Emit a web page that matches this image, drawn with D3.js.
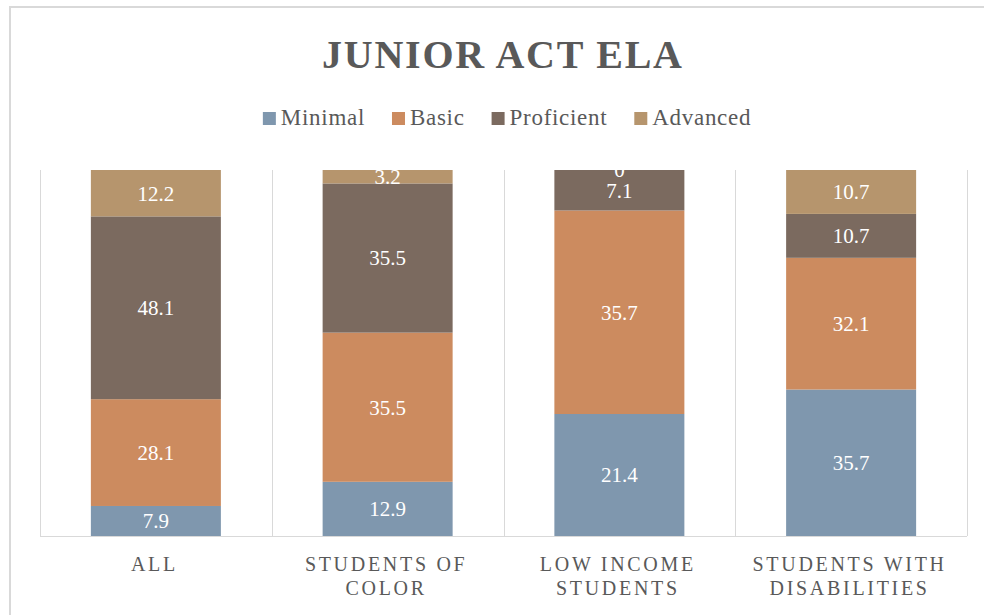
<!DOCTYPE html>
<html lang="en">

<head>
    <meta charset="UTF-8" />
    <style>
        body { margin: 0; background: #fff; }
        text { font-family: "Liberation Serif", "DejaVu Serif", serif; }
    </style>
</head>

<body>
    <svg width="984" height="615"></svg>
    <script src="https://d3js.org/d3.v7.min.js"></script>
    <script>
        // chart data
        var categories = ["ALL", "STUDENTS OF COLOR", "LOW INCOME STUDENTS", "STUDENTS WITH DISABILITIES"];
        var seriesNames = ["Minimal", "Basic", "Proficient", "Advanced"];
        var minimal = [7.9, 12.9, 21.4, 35.7];
        var basic = [28.1, 35.5, 35.7, 32.1];
        var proficient = [48.1, 35.5, 7.1, 10.7];
        var advanced = [12.2, 3.2, 0, 10.7];
        var colors = ["#7f97ae", "#cc8b5f", "#7b6a5f", "#b6956d"];

        var svg = d3.select("svg"),
            width = +svg.attr("width"),
            height = +svg.attr("height");

        // chart frame
        svg.append("rect")
            .attr("x", 10).attr("y", 7)
            .attr("width", width + 20).attr("height", height + 20)
            .attr("fill", "#fff")
            .attr("stroke", "#d9d9d9")
            .attr("stroke-width", 2);

        var plotLeft = 40, plotRight = 967, plotTop = 170, plotBottom = 536;

        var rows = categories.map(function (c, i) {
            return { cat: c, Minimal: minimal[i], Basic: basic[i], Proficient: proficient[i], Advanced: advanced[i] };
        });

        var stack = d3.stack().keys(seriesNames).offset(d3.stackOffsetExpand);
        var series = stack(rows);

        var x = d3.scaleBand().domain(categories).range([plotLeft, plotRight]);
        var barW = 130;
        var y = d3.scaleLinear().domain([0, 1]).range([plotBottom, plotTop]);

        // separators
        var bounds = categories.map(function (c) { return x(c); }).concat([plotRight]);
        svg.append("g").selectAll("line")
            .data(bounds)
            .enter().append("line")
            .attr("x1", function (d) { return Math.round(d) + 0.5; })
            .attr("x2", function (d) { return Math.round(d) + 0.5; })
            .attr("y1", plotTop).attr("y2", plotBottom)
            .attr("stroke", "#d9d9d9");

        // bars
        var g = svg.append("g");
        series.forEach(function (s, si) {
            g.selectAll(".s" + si)
                .data(s)
                .enter().append("rect")
                .attr("class", "s" + si)
                .attr("x", function (d) { return x(d.data.cat) + (x.bandwidth() - barW) / 2; })
                .attr("width", barW)
                .attr("y", function (d) { return y(d[1]); })
                .attr("height", function (d) { return y(d[0]) - y(d[1]); })
                .attr("fill", colors[si]);
        });

        // bottom axis line
        svg.append("line")
            .attr("x1", plotLeft).attr("x2", plotRight)
            .attr("y1", plotBottom + 0.5).attr("y2", plotBottom + 0.5)
            .attr("stroke", "#d9d9d9");

        // value labels
        series.forEach(function (s, si) {
            g.selectAll(".l" + si)
                .data(s)
                .enter().append("text")
                .attr("class", "l" + si)
                .attr("x", function (d) { return x(d.data.cat) + x.bandwidth() / 2; })
                .attr("y", function (d) { return (y(d[0]) + y(d[1])) / 2; })
                .attr("dy", "0.35em")
                .attr("text-anchor", "middle")
                .attr("fill", "#fff")
                .style("font-size", "21px")
                .text(function (d) { return d.data[s.key]; });
        });

        // category labels
        var cat = svg.append("g").selectAll("text")
            .data(categories)
            .enter().append("text")
            .attr("text-anchor", "middle")
            .attr("fill", "#595959")
            .style("font-size", "20px")
            .style("letter-spacing", "2.7px");

        cat.each(function (c) {
            var t = d3.select(this);
            var words = c.split(" "), lines = [], line = "";
            words.forEach(function (w) {
                var test = line ? line + " " + w : w;
                t.text(test);
                if (line && this.getComputedTextLength() > 205) {
                    lines.push(line);
                    line = w;
                } else {
                    line = test;
                }
            }, this);
            lines.push(line);
            t.text(null);
            var cx = x(c) + x.bandwidth() / 2 - 1.5;
            lines.forEach(function (l, i) {
                t.append("tspan").attr("x", cx).attr("y", 571 + i * 24).text(l);
            });
        });

        // title
        svg.append("text")
            .attr("x", 502).attr("y", 68)
            .attr("text-anchor", "middle")
            .attr("fill", "#595959")
            .style("font-size", "40px")
            .style("font-weight", "bold")
            .attr("textLength", 360)
            .attr("lengthAdjust", "spacing")
            .text("JUNIOR ACT ELA");

        // legend
        var legend = svg.append("g");
        var lx = 0, gap = 27;
        seriesNames.forEach(function (n, i) {
            var item = legend.append("g").attr("transform", "translate(" + lx + ",0)");
            item.append("rect")
                .attr("x", 0).attr("y", 112)
                .attr("width", 13).attr("height", 13)
                .attr("fill", colors[i]);
            var t = item.append("text")
                .attr("x", 18).attr("y", 125)
                .attr("fill", "#595959")
                .style("font-size", "23px")
                .style("letter-spacing", "0.7px")
                .text(n);
            lx += 18 + t.node().getComputedTextLength() + gap;
        });
        var lw = lx - gap;
        legend.attr("transform", "translate(" + (507 - lw / 2) + ",0)");
    </script>
</body>

</html>
